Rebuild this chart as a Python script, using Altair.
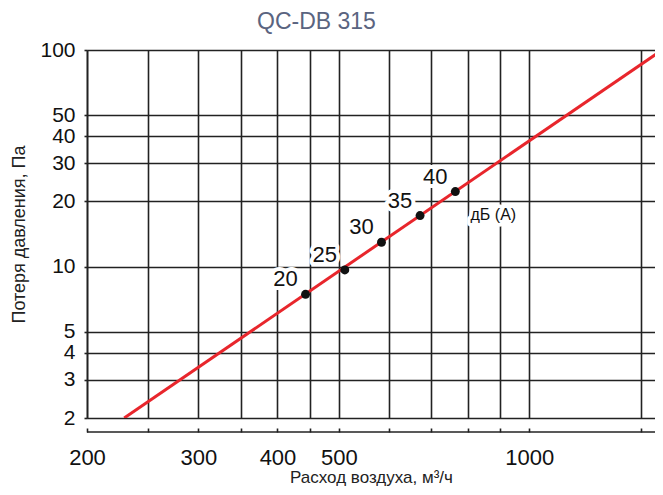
import altair as alt
import pandas as pd

# ---- data ----
title_text = "QC-DB 315"
x_ticks = [200, 250, 300, 350, 400, 450, 500, 600, 700, 800, 900, 1000, 1500]
x_labeled = [200, 300, 400, 500, 1000]
y_ticks = [2, 3, 4, 5, 10, 20, 30, 40, 50, 100]
line_q = [229, 1621]
line_p = [2, 100]
pt_q = [443, 511, 584, 672, 764]
pt_p = [7.45, 9.65, 12.95, 17.2, 22.2]
pt_lab = ["20", "25", "30", "35", "40"]
unit_label = "дБ (А)"
x_title = "Расход воздуха, м³/ч"
y_title = "Потеря давления, Па"

W = 568
H = 368
XMAX = 1580
FONT = "Liberation Sans"
GRID = "#222222"
RED = "#e8262c"

line_df = pd.DataFrame({"q": line_q, "p": line_p})
pt_df = pd.DataFrame({"q": pt_q, "p": pt_p, "lab": pt_lab})
unit_df = pd.DataFrame({"q": [pt_q[-1]], "p": [pt_p[-1]], "lab": [unit_label]})

xs = alt.Scale(type="log", domain=[200, XMAX], nice=False)
ys = alt.Scale(type="log", domain=[2, 100], nice=False)

lab_expr = " || ".join(f"datum.value == {v}" for v in x_labeled)

x_axis = alt.Axis(
    values=x_ticks, grid=True, gridColor=GRID, gridWidth=1.6, gridOpacity=1,
    domain=False, offset=10, tickSize=4, tickColor=GRID, tickWidth=1.6,
    format="d", labelExpr=f"({lab_expr}) ? datum.label : ''",
    labelFont=FONT, labelFontSize=22, labelColor="#111", labelPadding=15,
    labelFlush=False, labelOverlap=False,
    title=x_title, titleFont=FONT, titleFontSize=17, titleFontWeight="normal",
    titleColor="#222", titlePadding=1,
)
y_axis = alt.Axis(
    values=y_ticks, grid=True, gridColor=GRID, gridWidth=1.6, gridOpacity=1,
    domain=True, domainColor=GRID, domainWidth=1.6, tickSize=3, tickColor=GRID,
    tickWidth=1.6, format="d", labelFont=FONT, labelFontSize=21, labelColor="#111",
    labelPadding=9, labelOverlap=False, labelFlush=False,
    title=y_title, titleFont=FONT, titleFontSize=18, titleFontWeight="normal",
    titleColor="#222", titlePadding=11,
)

line = alt.Chart(line_df).mark_line(color=RED, strokeWidth=3, clip=True).encode(
    x=alt.X("q:Q", scale=xs, axis=x_axis),
    y=alt.Y("p:Q", scale=ys, axis=y_axis),
)

pts = alt.Chart(pt_df).mark_circle(size=80, color="#111", opacity=1).encode(
    x=alt.X("q:Q", scale=xs), y=alt.Y("p:Q", scale=ys)
)

halo = alt.Chart(pt_df).mark_text(
    font=FONT, fontSize=22, dx=-20, dy=-15, stroke="white", strokeWidth=8,
    fill="white", strokeJoin="round"
).encode(x=alt.X("q:Q", scale=xs), y=alt.Y("p:Q", scale=ys), text="lab:N")

labs = alt.Chart(pt_df).mark_text(
    font=FONT, fontSize=22, dx=-20, dy=-15, color="#111"
).encode(x=alt.X("q:Q", scale=xs), y=alt.Y("p:Q", scale=ys), text="lab:N")

unit_halo = alt.Chart(unit_df).mark_text(
    font=FONT, fontSize=16, dx=38, dy=23, stroke="white", strokeWidth=7,
    fill="white", strokeJoin="round"
).encode(x=alt.X("q:Q", scale=xs), y=alt.Y("p:Q", scale=ys), text="lab:N")

unit_lab = alt.Chart(unit_df).mark_text(
    font=FONT, fontSize=16, dx=38, dy=23, color="#111"
).encode(x=alt.X("q:Q", scale=xs), y=alt.Y("p:Q", scale=ys), text="lab:N")

base_rule = alt.Chart(pd.DataFrame({"a": [0]})).mark_rule(
    color=GRID, strokeWidth=1.6
).encode(x=alt.value(0), x2=alt.value(W), y=alt.value(H + 14))

chart = alt.layer(line, base_rule, halo, unit_halo, pts, labs, unit_lab).properties(
    width=W, height=H,
    title=alt.TitleParams(
        text=title_text, anchor="start", frame="group", dx=170, font=FONT,
        fontSize=23, fontWeight="normal", color="#5a6480", offset=5,
    ),
    autosize=alt.AutoSizeParams(type="none"),
    padding={"left": 79, "top": 42, "right": 0, "bottom": 69},
).configure_view(stroke=None).configure(background="white")

chart.save("out.html", embed_options={"renderer": "svg", "actions": False})
